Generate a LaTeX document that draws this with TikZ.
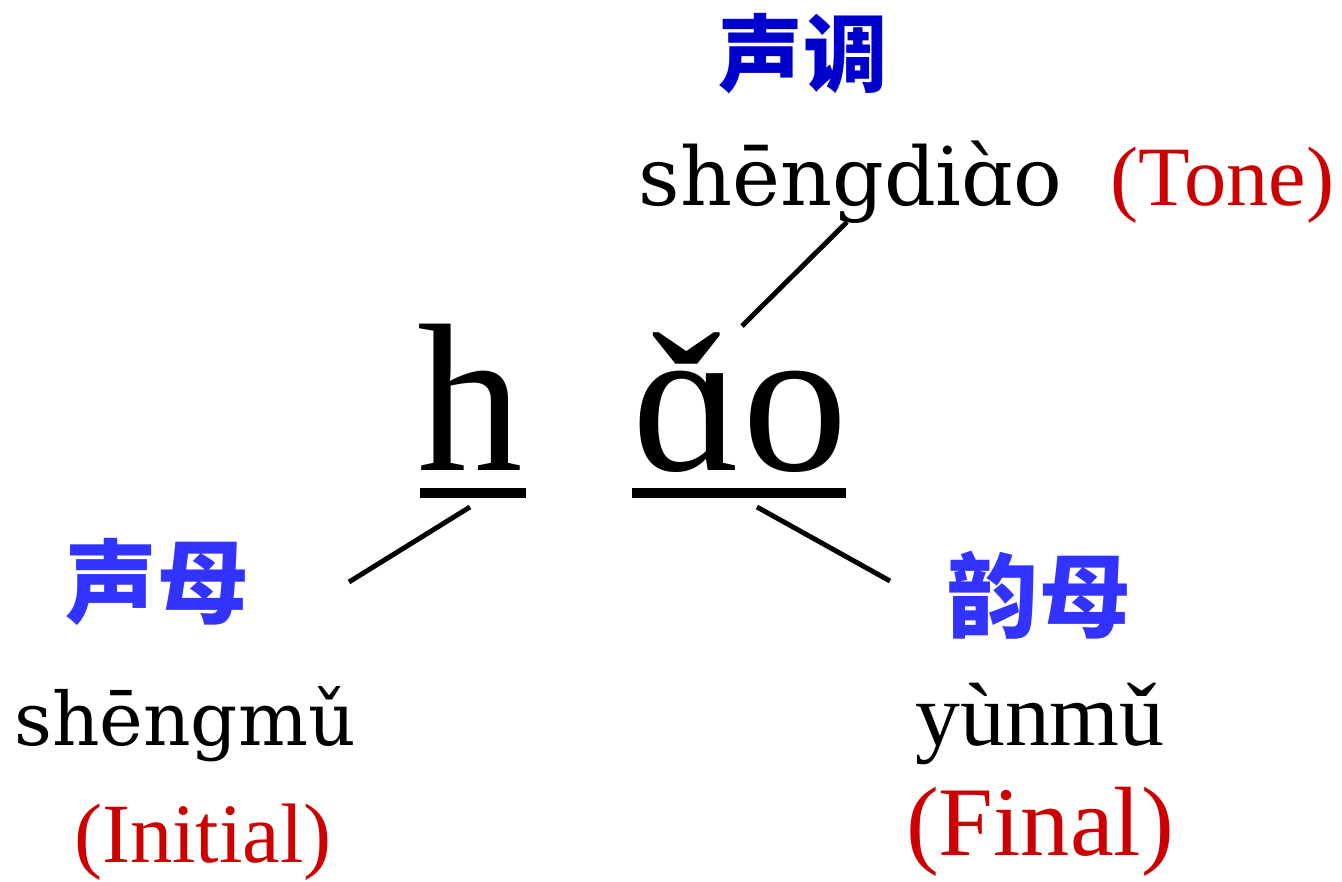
\documentclass[tikz,border=0pt]{standalone}
\usepackage{fontspec}
\setmainfont{Liberation Serif}
\newfontfamily\cjk{Noto Sans CJK SC}
\newfontfamily\pyfont{DejaVu Serif}
\usepackage{tikz}
\usetikzlibrary{positioning}
\definecolor{tonblue}{RGB}{0,0,204}
\definecolor{cnblue}{RGB}{51,51,255}
\definecolor{engred}{RGB}{204,0,0}

\begin{document}
\begin{tikzpicture}[x=0.01cm,y=-0.01cm,inner sep=0pt,
    cnlab/.style={font=\cjk\bfseries\fontsize{26}{26}\selectfont},
    pylab/.style={anchor=base,font=\pyfont\fontsize{23}{23}\selectfont},
    englab/.style={anchor=base,text=engred,font=\fontsize{24}{24}\selectfont},
    syll/.style={anchor=base,font=\fontsize{60}{60}\selectfont},
    underbar/.style={line width=2.9pt},
    link/.style={line width=1.4pt}]
  \useasboundingbox (0,0) rectangle (1342,881);

  % The syllable, initial and final underlined.
  \node[syll] (ini) at (470,470) {h};
  \node[syll] (fin) at (740,470) {\makebox[0pt][l]{\hspace{5.5pt}\raisebox{-2.6pt}{ˇ}}ɑo};
  \draw[underbar] (420,493) -- (526,493);
  \draw[underbar] (632,493) -- (846,493);

  % Tone label, top.
  \node[cnlab,text=tonblue,font=\cjk\bfseries\fontsize{24}{24}\selectfont] (tonecn) at (803,54) {声调};
  \node[pylab,anchor=base west] (tonepy) at (638,205) {shēngdiɑ̀o};
  \node[englab,anchor=base west] (toneen) at (1110,205) {(Tone)};

  % Initial label, bottom left.
  \node[cnlab,text=cnblue] (inicn) at (157,582) {声母};
  \node[pylab,font=\pyfont\fontsize{21}{21}\selectfont] (inipy) at (185,745) {shēngmǔ};
  \node[englab] (inien) at (203,862) {(Initial)};

  % Final label, bottom right.
  \node[cnlab,text=cnblue] (fincn) at (1039,595) {韵母};
  \node[pylab,font=\fontsize{25.5}{25.5}\selectfont] (finpy) at (1040,745) {yùnmǔ};
  \node[englab,font=\fontsize{28}{28}\selectfont] (finen) at (1040,855) {(Final)};

  % Connector ends.
  \coordinate (toneA) at (742,326);
  \coordinate (toneB) at (847,222);
  \coordinate (iniA) at (470,507);
  \coordinate (iniB) at (349,582);
  \coordinate (finA) at (757,507);
  \coordinate (finB) at (890,581);

  \draw[link] (toneA) -- (toneB);
  \draw[link] (iniA) -- (iniB);
  \draw[link] (finA) -- (finB);
\end{tikzpicture}
\end{document}
